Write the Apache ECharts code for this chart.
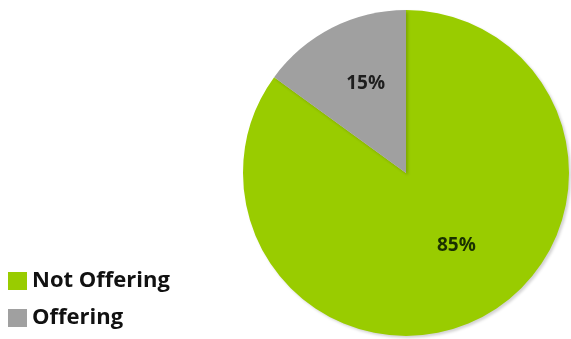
<!DOCTYPE html>
<html>
<head>
<meta charset="utf-8">
<script src="https://cdn.jsdelivr.net/npm/echarts@6/dist/echarts.min.js"></script>
<style>
  html, body { margin: 0; padding: 0; background: #fff; }
  #chart { width: 571px; height: 339px; }
</style>
</head>
<body>
<div id="chart"></div>
<script>
// Share of providers offering the service
const categories = ['Not Offering', 'Offering'];
const shares = [85, 15];
const sliceColors = ['#99cc00', '#a0a0a0'];
const labelColors = ['#1a3000', '#1e1e1e'];
const labelOffsets = [[12, -3], [-2, -14]];

const chart = echarts.init(document.getElementById('chart'), null, { renderer: 'canvas' });

const pieData = categories.map((name, i) => ({
  name: name,
  value: shares[i],
  itemStyle: { color: sliceColors[i] },
  label: { color: labelColors[i], offset: labelOffsets[i] }
}));

chart.setOption({
  animation: false,
  legend: {
    orient: 'vertical',
    left: 8,
    top: 270,
    padding: 0,
    icon: 'rect',
    itemWidth: 19,
    itemHeight: 18,
    itemGap: 15,
    data: categories,
    textStyle: {
      fontFamily: 'Open Sans',
      fontWeight: 'bold',
      fontSize: 22,
      color: '#111'
    }
  },
  series: [{
    type: 'pie',
    center: [406, 173],
    radius: 163,
    startAngle: 90,
    clockwise: true,
    label: {
      show: true,
      position: 'inside',
      formatter: '{c}%',
      fontFamily: 'Open Sans',
      fontWeight: 'bold',
      fontSize: 19
    },
    labelLine: { show: false },
    itemStyle: {
      borderWidth: 0,
      shadowColor: 'rgba(0,0,0,0.18)',
      shadowBlur: 3,
      shadowOffsetX: 2,
      shadowOffsetY: 2
    },
    emphasis: { disabled: true },
    data: pieData
  }]
});
</script>
</body>
</html>
